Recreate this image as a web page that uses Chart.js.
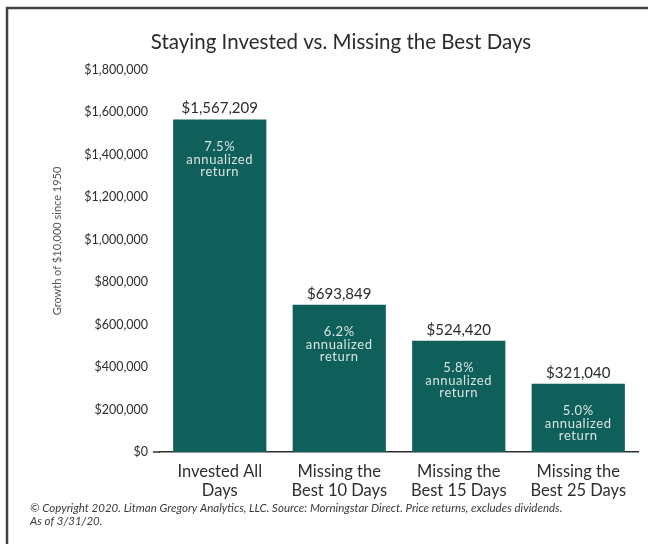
<!DOCTYPE html>
<html>
<head>
<meta charset="utf-8">
<script src="https://cdn.jsdelivr.net/npm/chart.js@4"></script>
<style>
  html, body { margin: 0; padding: 0; background: #fff; }
  #wrap { width: 648px; height: 544px; }
</style>
</head>
<body>
<div id="wrap"><canvas id="growthChart" width="648" height="544"></canvas></div>
<script>
// data
let categories = [["Invested All", "Days"], ["Missing the", "Best 10 Days"], ["Missing the", "Best 15 Days"], ["Missing the", "Best 25 Days"]];
let values = [1567209, 693849, 524420, 321040];
let annualReturns = ["7.5%", "6.2%", "5.8%", "5.0%"];
let yTicks = [0, 200000, 400000, 600000, 800000, 1000000, 1200000, 1400000, 1600000, 1800000];

const FONT = "Lato, 'Open Sans', sans-serif";

function money(v) {
    return "$" + v.toLocaleString("en-US");
}

// title, border, footer, labels on the bars
const decorPlugin = {
    id: 'decor',
    afterDraw(chart) {
        const ctx = chart.ctx;
        const area = chart.chartArea;
        ctx.save();

        // frame on top and left
        ctx.strokeStyle = '#444';
        ctx.lineWidth = 2.5;
        ctx.beginPath();
        ctx.moveTo(7, 544);
        ctx.lineTo(7, 8);
        ctx.lineTo(648, 8);
        ctx.stroke();

        // axis line sticks out a little to the left
        ctx.strokeStyle = '#2e2e2e';
        ctx.lineWidth = 1.5;
        ctx.beginPath();
        ctx.moveTo(153, area.bottom);
        ctx.lineTo(area.left, area.bottom);
        ctx.stroke();

        // title
        ctx.fillStyle = '#2b2b2b';
        ctx.font = "20.5px " + FONT;
        ctx.textAlign = 'center';
        ctx.textBaseline = 'middle';
        ctx.fillText("Staying Invested vs. Missing the Best Days", 341, 42);

        // y axis title, drawn by hand (sits higher than the middle of the axis)
        ctx.save();
        ctx.translate(57, 241);
        ctx.rotate(-Math.PI / 2);
        ctx.fillStyle = '#555';
        ctx.font = "11px " + FONT;
        ctx.fillText("Growth of $10,000 since 1950", 0, 0);
        ctx.restore();

        // bar labels
        const meta = chart.getDatasetMeta(0);
        meta.data.forEach(function(bar, i) {
            ctx.fillStyle = '#2b2b2b';
            ctx.font = "15px " + FONT;
            ctx.textAlign = 'center';
            ctx.textBaseline = 'middle';
            ctx.fillText(money(values[i]), bar.x, bar.y - 11);

            ctx.fillStyle = '#d9e4e2';
            ctx.font = "13px " + FONT;
            ctx.letterSpacing = "0.6px";
            ctx.fillText(annualReturns[i], bar.x, bar.y + 27);
            ctx.fillText("annualized", bar.x, bar.y + 40);
            ctx.fillText("return", bar.x, bar.y + 52);
            ctx.letterSpacing = "0px";
        });

        // footer
        ctx.fillStyle = '#3a3a3a';
        ctx.font = "italic 11.5px " + FONT;
        ctx.textAlign = 'left';
        ctx.fillText("\u00A9 Copyright 2020. Litman Gregory Analytics, LLC. Source: Morningstar Direct. Price returns, excludes dividends.", 30, 508);
        ctx.fillText("As of 3/31/20.", 30, 521);

        ctx.restore();
    }
};

let canvas = document.getElementById('growthChart').getContext('2d');

let growthChart = new Chart(canvas, {
    type: 'bar',
    data: {
        labels: categories,
        datasets: [{
            data: values,
            backgroundColor: '#0f5f5a',
            barPercentage: 0.78,
            categoryPercentage: 1.0
        }]
    },
    options: {
        responsive: false,
        animation: false,
        layout: {
            padding: { left: 0, right: 10, top: 70, bottom: 0 }
        },
        plugins: {
            legend: { display: false },
            tooltip: { enabled: false }
        },
        scales: {
            x: {
                grid: { display: false },
                border: { display: true, color: '#2e2e2e', width: 1.5 },
                ticks: {
                    color: '#2e2e2e',
                    font: { family: FONT, size: 16.5, lineHeight: 1.1 },
                    padding: 3,
                    maxRotation: 0,
                    autoSkip: false
                },
                afterFit(scale) { scale.height = 92; }
            },
            y: {
                min: 0,
                max: 1800000,
                afterBuildTicks(scale) {
                    scale.ticks = yTicks.map(function(v) { return { value: v }; });
                },
                grid: { display: false, drawTicks: false },
                border: { display: false },
                ticks: {
                    color: '#2e2e2e',
                    font: { family: FONT, size: 12.5 },
                    padding: 12,
                    callback: function(v) { return money(v); }
                },
                afterFit(scale) { scale.width = 160; }
            }
        }
    },
    plugins: [decorPlugin]
});
</script>
</body>
</html>
